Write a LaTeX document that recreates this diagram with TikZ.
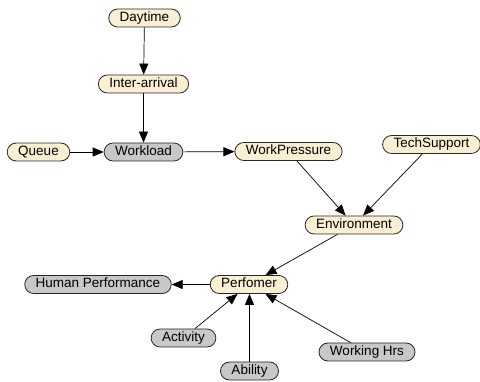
\documentclass[tikz,border=0pt]{standalone}
\usepackage{fontspec}
\setmainfont{Liberation Sans}
\usetikzlibrary{arrows.meta,positioning}
\definecolor{nodecream}{RGB}{250,239,210}
\definecolor{nodegray}{RGB}{200,200,200}

\begin{document}
\begin{tikzpicture}[x=1pt,y=-1pt]
\tikzstyle{var}=[draw=black!85,line width=0.8pt,rounded corners=9pt,minimum height=18pt,inner xsep=11pt,inner ysep=0pt,text height=9.5pt,text depth=2.5pt,font=\fontsize{13.5}{15}\selectfont];
\tikzstyle{obs}=[var,fill=nodecream];
\tikzstyle{hid}=[var,fill=nodegray];
\tikzstyle{link}=[-{Triangle[length=11pt,width=9pt]},line width=0.7pt];

\useasboundingbox (0,0) rectangle (480,382);

% upper part
\node[obs] (daytime) at (144.5,18) {Daytime};
\node[obs] (inter) at (143.5,84) {Inter-arrival};
\node[obs] (queue) at (38.5,152) {Queue};
\node[hid] (workload) at (143.5,152) {Workload};
\node[obs] (pressure) at (288.5,151.5) {WorkPressure};
\node[obs] (tech) at (431.5,144.5) {TechSupport};
\node[obs] (env) at (354,225) {Environment};

% lower part
\node[hid] (human) at (98,284.5) {Human Performance};
\node[obs] (perf) at (249,284.5) {Perfomer};
\node[hid] (activity) at (183.5,338) {Activity};
\node[hid] (ability) at (249.5,371) {Ability};
\node[hid] (hours) at (367,352) {Working Hrs};

\foreach \a/\b in {daytime/inter,inter/workload,queue/workload,workload/pressure,
                   pressure/env,tech/env,env/perf,perf/human,activity/perf,hours/perf}
  \draw[link] (\a) -- (\b);
\draw[link] (ability) -- (ability |- perf.south);

\end{tikzpicture}
\end{document}
